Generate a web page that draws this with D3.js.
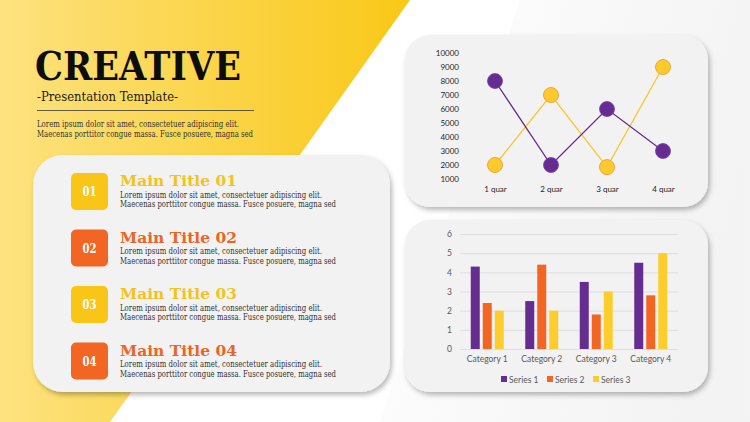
<!DOCTYPE html>
<html><head><meta charset="utf-8">
<script src="https://cdn.jsdelivr.net/npm/d3@7"></script>
<style>html,body{margin:0;padding:0;background:#fff;}svg{display:block;}</style>
</head><body>
<svg id="c" width="750" height="422"></svg>
<script>
// ---- data ----
const quarters = ["1 quar", "2 quar", "3 quar", "4 quar"];
const lineSeriesA = [8000, 2000, 6000, 3000];   // purple
const lineSeriesB = [2000, 7000, 1850, 9000];   // yellow
const lineTicks = [1000, 2000, 3000, 4000, 5000, 6000, 7000, 8000, 9000, 10000];

const categories = ["Category 1", "Category 2", "Category 3", "Category 4"];
const seriesNames = ["Series 1", "Series 2", "Series 3"];
const series1 = [4.3, 2.5, 3.5, 4.5];
const series2 = [2.4, 4.4, 1.8, 2.8];
const series3 = [2.0, 2.0, 3.0, 5.0];
const barTicks = [0, 1, 2, 3, 4, 5, 6];

const itemNums = ["01", "02", "03", "04"];
const itemTitles = ["Main Title 01", "Main Title 02", "Main Title 03", "Main Title 04"];
const loremA = "Lorem ipsum dolor sit amet, consectetuer adipiscing elit.";
const loremB = "Maecenas porttitor congue massa. Fusce posuere, magna sed";

// ---- styles ----
const PURPLE = "#662d91", ORANGE = "#f26522", YELLOW = "#fcc92e", YSTROKE = "#f2a72c";
const serif = "'DejaVu Serif', 'Liberation Serif', serif";
const sans = "Lato, 'Open Sans', 'Liberation Sans', sans-serif";

const svg = d3.select("#c");
const defs = svg.append("defs");

const g1 = defs.append("linearGradient").attr("id", "yg").attr("x1", 0).attr("x2", 1).attr("y1", 0).attr("y2", 0);
g1.append("stop").attr("offset", "0%").attr("stop-color", "#fde27f");
g1.append("stop").attr("offset", "100%").attr("stop-color", "#f9c817");

const g2 = defs.append("linearGradient").attr("id", "bg").attr("x1", 0).attr("x2", 1).attr("y1", 0).attr("y2", 0.3);
g2.append("stop").attr("offset", "0%").attr("stop-color", "#ffffff");
g2.append("stop").attr("offset", "100%").attr("stop-color", "#f2f2f2");

const sh = defs.append("filter").attr("id", "sh").attr("x", "-10%").attr("y", "-10%").attr("width", "125%").attr("height", "130%");
sh.append("feDropShadow").attr("dx", 2).attr("dy", 3).attr("stdDeviation", 2.5).attr("flood-color", "#000").attr("flood-opacity", 0.28);

// background
svg.append("rect").attr("width", 750).attr("height", 422).attr("fill", "#ffffff");
svg.append("path").attr("d", "M520,0 L750,0 L750,422 L380,422 Z").attr("fill", "url(#bg)").attr("opacity", 0.9);
svg.append("path").attr("d", "M0,0 L410,0 L110,422 L0,422 Z").attr("fill", "url(#yg)");

// header
svg.append("text").attr("x", 35).attr("y", 80).attr("font-family", serif)
  .attr("font-weight", "bold").attr("font-size", 40).attr("fill", "#0d0d0d")
  .attr("textLength", 206).attr("lengthAdjust", "spacingAndGlyphs").text("CREATIVE");
svg.append("text").attr("x", 37).attr("y", 101).attr("font-family", serif).attr("font-size", 12.5).attr("fill", "#1a1a1a")
  .attr("textLength", 141).attr("lengthAdjust", "spacingAndGlyphs").text("-Presentation Template-");
svg.append("line").attr("x1", 37).attr("x2", 254).attr("y1", 110.5).attr("y2", 110.5).attr("stroke", "#3a3a3a").attr("stroke-width", 0.8);
svg.append("text").attr("x", 37).attr("y", 127).attr("font-family", serif).attr("font-size", 8.3).attr("fill", "#333")
  .attr("textLength", 202).attr("lengthAdjust", "spacingAndGlyphs").text(loremA);
svg.append("text").attr("x", 37).attr("y", 136.5).attr("font-family", serif).attr("font-size", 8.3).attr("fill", "#333")
  .attr("textLength", 216).attr("lengthAdjust", "spacingAndGlyphs").text(loremB);

// cards
function card(x, y, w, h, r) {
  svg.append("rect").attr("x", x).attr("y", y).attr("width", w).attr("height", h).attr("rx", r).attr("ry", r)
    .attr("fill", "#f2f2f2").attr("filter", "url(#sh)");
}
card(33, 155, 357, 237, 30);
card(405, 35, 303, 172, 25);
card(405, 220, 303, 172, 25);

// list items
const itemY = d3.scaleBand().domain(itemNums).range([173, 399]).paddingInner(0);
itemNums.forEach((n, i) => {
  const y = itemY(n);
  const col = i % 2 === 0 ? "#f9c516" : "#f26522";
  const tcol = i % 2 === 0 ? "#f5c21b" : "#ec6425";
  svg.append("rect").attr("x", 71).attr("y", y).attr("width", 37).attr("height", 37).attr("rx", 5).attr("fill", col);
  svg.append("text").attr("x", 89.5).attr("y", y + 23).attr("text-anchor", "middle").attr("font-family", serif)
    .attr("font-weight", "bold").attr("font-size", 13).attr("fill", "#fff")
    .attr("textLength", 14).attr("lengthAdjust", "spacingAndGlyphs").text(n);
  svg.append("text").attr("x", 120).attr("y", y + 13).attr("font-family", serif).attr("font-weight", "bold")
    .attr("font-size", 15.5).attr("fill", tcol).attr("textLength", 117).attr("lengthAdjust", "spacingAndGlyphs").text(itemTitles[i]);
  svg.append("text").attr("x", 120).attr("y", y + 24.5).attr("font-family", serif).attr("font-size", 8.3).attr("fill", "#333")
    .attr("textLength", 202).attr("lengthAdjust", "spacingAndGlyphs").text(loremA);
  svg.append("text").attr("x", 120).attr("y", y + 34).attr("font-family", serif).attr("font-size", 8.3).attr("fill", "#333")
    .attr("textLength", 216).attr("lengthAdjust", "spacingAndGlyphs").text(loremB);
});

// ---- line chart ----
const lx = d3.scalePoint().domain(quarters).range([495, 663]);
const ly = d3.scaleLinear().domain([1000, 10000]).range([179, 53]);
const lg = svg.append("g");
const yAx = lg.append("g").attr("transform", "translate(460,0)")
  .call(d3.axisLeft(ly).tickValues(lineTicks).tickSize(0).tickPadding(1).tickFormat(d3.format("d")));
yAx.select(".domain").remove();
yAx.selectAll("text").attr("font-family", sans).attr("font-size", 8).attr("fill", "#262626");
const xAx = lg.append("g").attr("transform", "translate(0,186)")
  .call(d3.axisBottom(lx).tickSize(0).tickPadding(0));
xAx.select(".domain").remove();
xAx.selectAll("text").attr("font-family", sans).attr("font-size", 8).attr("fill", "#262626");

const line = d3.line().x((d, i) => lx(quarters[i])).y(d => ly(d));
lg.append("path").datum(lineSeriesB).attr("d", line).attr("fill", "none").attr("stroke", "#f7c531").attr("stroke-width", 1.3);
lg.append("path").datum(lineSeriesA).attr("d", line).attr("fill", "none").attr("stroke", PURPLE).attr("stroke-width", 1.3);
lg.selectAll(".pb").data(lineSeriesB).join("circle").attr("cx", (d, i) => lx(quarters[i])).attr("cy", d => ly(d))
  .attr("r", 7.5).attr("fill", YELLOW).attr("stroke", YSTROKE).attr("stroke-width", 1);
lg.selectAll(".pa").data(lineSeriesA).join("circle").attr("cx", (d, i) => lx(quarters[i])).attr("cy", d => ly(d))
  .attr("r", 7.5).attr("fill", PURPLE).attr("stroke", "#7a3fa5").attr("stroke-width", 0.8);

// ---- bar chart ----
const bx = d3.scaleBand().domain(categories).range([460, 678]);
const by = d3.scaleLinear().domain([0, 6]).range([349, 234]);
const inner = d3.scaleBand().domain(seriesNames).range([0, 33]).paddingInner(0.25);
const bg = svg.append("g");
bg.selectAll(".grid").data(barTicks).join("line").attr("x1", 460).attr("x2", 678)
  .attr("y1", d => by(d) + 0.5).attr("y2", d => by(d) + 0.5).attr("stroke", "#d9d9d9").attr("stroke-width", 0.8);
const byAx = bg.append("g").attr("transform", "translate(452,0)")
  .call(d3.axisLeft(by).tickValues(barTicks).tickSize(0).tickPadding(0).tickFormat(d3.format("d")));
byAx.select(".domain").remove();
byAx.selectAll("text").attr("font-family", sans).attr("font-size", 8.5).attr("fill", "#595959");
const bxAx = bg.append("g").attr("transform", "translate(0,356)")
  .call(d3.axisBottom(bx).tickSize(0).tickPadding(0));
bxAx.select(".domain").remove();
bxAx.selectAll("text").attr("font-family", sans).attr("font-size", 8.5).attr("fill", "#595959");

const allSeries = [series1, series2, series3];
const barColors = [PURPLE, ORANGE, "#fccd2d"];
allSeries.forEach((vals, si) => {
  bg.selectAll(".b" + si).data(vals).join("rect")
    .attr("x", (d, i) => bx(categories[i]) + (bx.bandwidth() - 33) / 2 + inner(seriesNames[si]))
    .attr("y", d => by(d)).attr("width", inner.bandwidth()).attr("height", d => by(0) - by(d))
    .attr("fill", barColors[si]);
});
const legX = d3.scalePoint().domain(seriesNames).range([501, 593]);
seriesNames.forEach((s, i) => {
  bg.append("rect").attr("x", legX(s)).attr("y", 376).attr("width", 6).attr("height", 6).attr("fill", barColors[i]);
  bg.append("text").attr("x", legX(s) + 8).attr("y", 382.5).attr("font-family", sans).attr("font-size", 8.5)
    .attr("fill", "#595959").text(s);
});
</script>
</body></html>
